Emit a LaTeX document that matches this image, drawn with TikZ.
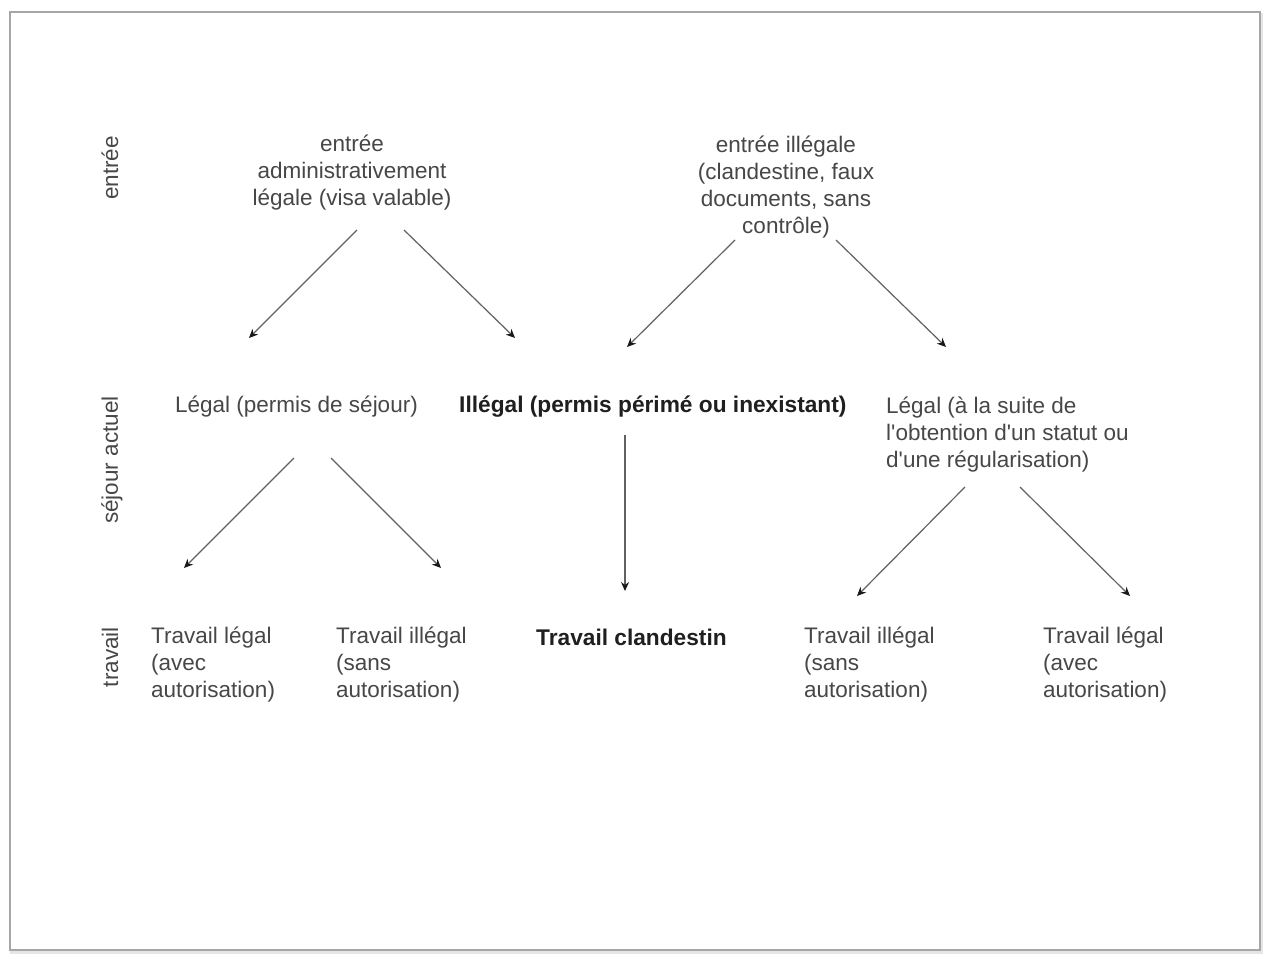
\documentclass[tikz,border=0pt]{standalone}
\usepackage{fontspec}
\setmainfont{Liberation Sans}
\usetikzlibrary{arrows.meta}
\begin{document}
\begin{tikzpicture}[x=1pt,y=-1pt,
  txt/.style={inner sep=0pt, text=black!72, font=\fontsize{22.5}{27}\selectfont},
  btxt/.style={inner sep=0pt, text=black!88, font=\fontsize{22.7}{27}\selectfont\bfseries},
  lab/.style={txt, rotate=90},
  arr/.style={draw=black!62, line width=1.2pt, -{Stealth[length=9pt,width=8pt,black!90]}}]
\useasboundingbox (0,0) rectangle (1263,954);
% page frame with shadow
\draw[black!10, line width=4pt] (12,15) rectangle (1262,952);
\draw[black!35, line width=1.2pt, fill=white] (10,12) rectangle (1260,950);

% row labels
\node[lab] (Lentree) at (110,168) {entrée};
\node[lab] (Lsejour) at (112,460) {séjour actuel};
\node[lab] (Ltravail) at (110,657) {travail};

% top row
\node[txt, align=center] (E1) at (352,173) {entrée\\administrativement\\légale (visa valable)};
\node[txt, align=center] (E2) at (786,187) {entrée illégale\\(clandestine, faux\\documents, sans\\contrôle)};

% middle row
\node[txt, anchor=west] (S1) at (175,407) {Légal (permis de séjour)};
\node[btxt, anchor=west] (S2) at (459,407) {Illégal (permis périmé ou inexistant)};
\node[txt, anchor=north west, align=left] (S3) at (886,397) {Légal (à la suite de\\l\textquotesingle obtention d\textquotesingle un statut ou\\d\textquotesingle une régularisation)};

% bottom row
\node[txt, anchor=north west, align=left] (T1) at (151,627) {Travail légal\\(avec\\autorisation)};
\node[txt, anchor=north west, align=left] (T2) at (336,627) {Travail illégal\\(sans\\autorisation)};
\node[btxt, anchor=west] (T3) at (536,637) {Travail clandestin};
\node[txt, anchor=north west, align=left] (T4) at (804,627) {Travail illégal\\(sans\\autorisation)};
\node[txt, anchor=north west, align=left] (T5) at (1043,627) {Travail légal\\(avec\\autorisation)};

% connector end points
\coordinate (a1s) at (357,230); \coordinate (a1e) at (249,338);
\coordinate (a2s) at (404,230); \coordinate (a2e) at (515,338);
\coordinate (a3s) at (735,240); \coordinate (a3e) at (627,347);
\coordinate (a4s) at (836,240); \coordinate (a4e) at (946,347);
\coordinate (a5s) at (294,458); \coordinate (a5e) at (184,568);
\coordinate (a6s) at (331,458); \coordinate (a6e) at (441,568);
\coordinate (a7s) at (625,435); \coordinate (a7e) at (625,591);
\coordinate (a8s) at (965,487); \coordinate (a8e) at (857,596);
\coordinate (a9s) at (1020,487); \coordinate (a9e) at (1130,596);

\draw[arr] (a1s) -- (a1e);
\draw[arr] (a2s) -- (a2e);
\draw[arr] (a3s) -- (a3e);
\draw[arr] (a4s) -- (a4e);
\draw[arr] (a5s) -- (a5e);
\draw[arr] (a6s) -- (a6e);
\draw[arr] (a7s) -- (a7e);
\draw[arr] (a8s) -- (a8e);
\draw[arr] (a9s) -- (a9e);
\end{tikzpicture}
\end{document}
